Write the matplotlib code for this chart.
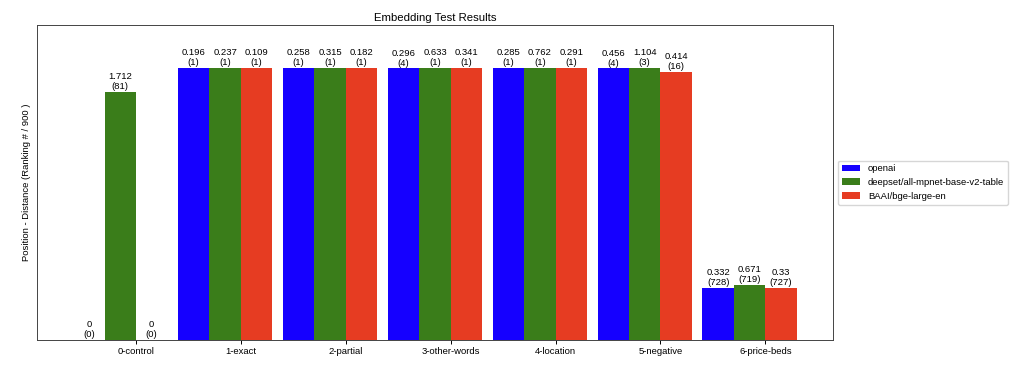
import numpy as np
import matplotlib
matplotlib.use("Agg")
from matplotlib import pyplot as plt

plt.rcParams['font.family'] = ['Liberation Sans', 'DejaVu Sans']

categories = ['0-control', '1-exact', '2-partial', '3-other-words', '4-location', '5-negative', '6-price-beds']
models = ['openai', 'deepset/all-mpnet-base-v2-table', 'BAAI/bge-large-en']

# distance values and ranking positions per model
openai_dist = [0, 0.196, 0.258, 0.296, 0.285, 0.456, 0.332]
openai_rank = [0, 1, 1, 4, 1, 4, 728]
deepset_dist = [1.712, 0.237, 0.315, 0.633, 0.762, 1.104, 0.671]
deepset_rank = [81, 1, 1, 1, 1, 3, 719]
baai_dist = [0, 0.109, 0.182, 0.341, 0.291, 0.414, 0.33]
baai_rank = [0, 1, 1, 1, 1, 16, 727]

colors = ['#1500ff', '#3a7d1a', '#e63c22']
total = 900

dists = [openai_dist, deepset_dist, baai_dist]
ranks = [openai_rank, deepset_rank, baai_rank]

fig = plt.figure(figsize=(10.24, 3.65), dpi=100)
ax = fig.add_axes([0.036, 0.0685, 0.7775, 0.863])

x = np.arange(len(categories))
width = 0.3
for i in range(3):
    # bar height = (total - rank) / total, rank 0 means not found
    heights = [(total - r) / total if r > 0 else 0 for r in ranks[i]]
    bars = ax.bar(x + i * width, heights, width, color=colors[i], label=models[i])
    for b, d, r in zip(bars, dists[i], ranks[i]):
        ax.annotate(f'{d:g}\n({r})', (b.get_x() + b.get_width() / 2, b.get_height()),
                    xytext=(0, 0.5), textcoords='offset points',
                    ha='center', va='bottom', fontsize=6.8, linespacing=1.15)

ax.set_xticks(x + width * 1.5, categories, fontsize=6.8)
ax.tick_params(axis='x', length=3, width=0.7, pad=2)
ax.set_yticks([])
ax.set_ylim(0, 1.155)
ax.set_ylabel('Position - Distance (Ranking # / 900 )', fontsize=6.8)
ax.set_title('Embedding Test Results', fontsize=8.2, pad=3)
for s in ax.spines.values():
    s.set_linewidth(0.7)
    s.set_color('#444444')
ax.legend(loc='center left', bbox_to_anchor=(1, 0.5), fontsize=6.8)

plt.savefig('out.png', dpi=100)
